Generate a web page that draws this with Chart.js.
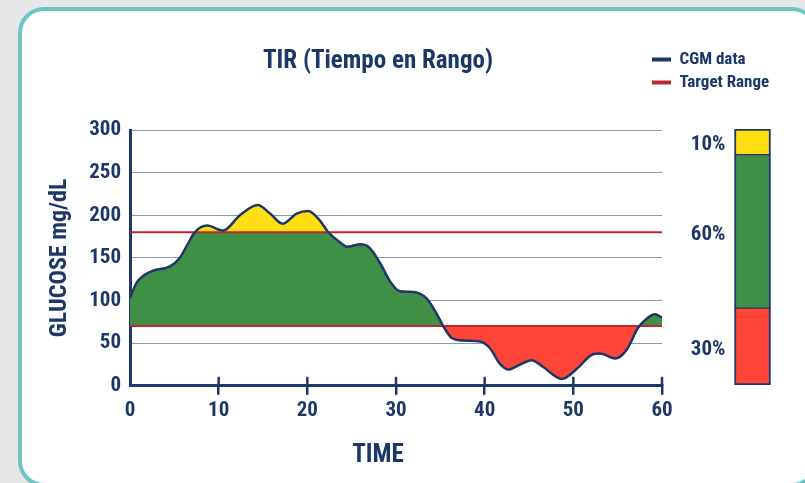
<!DOCTYPE html>
<html lang="es">
<head>
    <meta charset="UTF-8">
    <title>TIR (Tiempo en Rango)</title>
    <script src="https://cdn.jsdelivr.net/npm/chart.js"></script>
    <style>
        html, body { margin: 0; padding: 0; width: 805px; height: 483px; overflow: hidden; background: #e6e7e8; }
        .card {
            position: absolute; left: 18px; top: 7px; width: 800px; height: 480px;
            box-sizing: border-box; background: #fff;
            border: 4px solid #6cc5c0; border-radius: 26px;
        }
        #glucoseChart { position: absolute; left: 30px; top: 30px; }
        #tirChart { position: absolute; left: 646px; top: 45px; }
    </style>
</head>
<body>
    <div class="card"></div>
    <canvas id="glucoseChart" width="696" height="450"></canvas>
    <canvas id="tirChart" width="159" height="350"></canvas>
    <script>
        // CGM readings (minutes, mg/dL)
        const times   = [0, 0.75, 1.5, 2.6, 4.5, 5.6, 6.4, 7.3, 8.7, 10.5, 12.4, 14.4, 15.8, 17.2, 18.8, 20.1, 21.4, 22.3, 23.7, 24.5, 26, 27, 28.2, 29.3, 30.4, 32, 33.5, 34.6, 35.5, 36.3, 37.6, 39.5, 40.6, 41.7, 42.7, 44, 45.3, 46.6, 48.7, 50.4, 52.2, 53, 54.7, 56, 57.3, 58.3, 59.2, 60];
        const glucose = [103, 121, 129, 135, 140, 150, 164, 180, 188, 182, 200, 212, 202, 190, 202, 205, 194, 181, 168, 163, 166, 162, 144, 123, 111, 110, 102, 84, 67, 56, 53, 52, 44, 26, 19, 25, 30, 22, 8, 20, 37, 38, 32, 42, 68, 79, 84, 80];

        // target range limits
        const targetLow = 70;
        const targetHigh = 180;

        // time in range split
        const tirLabels = ['Bajo', 'En rango', 'Alto'];
        const tirValues = [30, 60, 10];

        const legendLabels = ['CGM data', 'Target Range'];

        const navy = '#1d3768';
        const lineRed = '#c0272d';
        const green = '#3f8f47';
        const yellow = '#ffdf12';
        const red = '#ff4438';
        const tirColors = [red, green, yellow];
        const fontFamily = "'Roboto Condensed', 'Liberation Sans Narrow', 'DejaVu Sans Condensed', Roboto, sans-serif";

        const cgmPoints = times.map((t, i) => ({ x: t, y: glucose[i] }));
        const flat = v => [{ x: times[0], y: v }, { x: times[times.length - 1], y: v }];

        // x ticks cross the axis line, draw the upper half here
        const crossTicks = {
            id: 'crossTicks',
            afterDraw(chart) {
                const xs = chart.scales.x;
                const ctx = chart.ctx;
                ctx.save();
                ctx.strokeStyle = navy;
                ctx.lineWidth = 2.5;
                xs.ticks.forEach((t, i) => {
                    if (i === 0) return;
                    const px = xs.getPixelForTick(i);
                    ctx.beginPath();
                    ctx.moveTo(px, xs.top - 9);
                    ctx.lineTo(px, xs.top);
                    ctx.stroke();
                });
                ctx.restore();
            }
        };

        new Chart(document.getElementById('glucoseChart'), {
            type: 'line',
            data: {
                datasets: [
                    {
                        label: legendLabels[0],
                        data: cgmPoints,
                        borderColor: navy,
                        borderWidth: 2.5,
                        cubicInterpolationMode: 'monotone',
                        pointRadius: 0,
                        fill: false
                    },
                    {
                        label: legendLabels[1],
                        data: flat(targetHigh),
                        borderColor: lineRed,
                        borderWidth: 2,
                        pointRadius: 0,
                        fill: false
                    },
                    {
                        label: 'low',
                        data: flat(targetLow),
                        borderColor: lineRed,
                        borderWidth: 2,
                        pointRadius: 0,
                        fill: false
                    },
                    {
                        // above target -> yellow
                        label: 'high fill',
                        data: cgmPoints,
                        borderWidth: 0,
                        cubicInterpolationMode: 'monotone',
                        pointRadius: 0,
                        fill: { target: { value: targetHigh }, above: yellow, below: 'rgba(0,0,0,0)' }
                    },
                    {
                        // in range green, below range red
                        label: 'range fill',
                        data: cgmPoints,
                        borderWidth: 0,
                        cubicInterpolationMode: 'monotone',
                        pointRadius: 0,
                        fill: { target: { value: targetLow }, above: green, below: red }
                    }
                ]
            },
            options: {
                responsive: false,
                animation: false,
                layout: { padding: { left: 14, right: 14, top: 0, bottom: 9 } },
                plugins: {
                    legend: { display: false },
                    tooltip: { enabled: false },
                    title: {
                        display: true,
                        text: 'TIR (Tiempo en Rango)',
                        color: navy,
                        font: { family: fontFamily, size: 25, weight: 'bold', lineHeight: 1.2 },
                        padding: { top: 17, bottom: 53 }
                    },
                    subtitle: {
                        display: true,
                        position: 'bottom',
                        text: 'TIME',
                        color: navy,
                        font: { family: fontFamily, size: 25, weight: 'bold', lineHeight: 1.2 },
                        padding: { top: 15, bottom: 0 }
                    }
                },
                scales: {
                    x: {
                        type: 'linear',
                        min: 0,
                        max: 60,
                        ticks: {
                            stepSize: 10,
                            color: navy,
                            padding: 3,
                            font: { family: fontFamily, size: 21, weight: 'bold', lineHeight: 1.2 }
                        },
                        grid: {
                            drawOnChartArea: false,
                            tickLength: 9,
                            lineWidth: 2.5,
                            color: ctx => ctx.index === 0 ? 'rgba(0,0,0,0)' : navy
                        },
                        border: { color: navy, width: 3 }
                    },
                    y: {
                        min: 0,
                        max: 300,
                        z: 1,
                        ticks: {
                            stepSize: 50,
                            color: navy,
                            padding: 9,
                            font: { family: fontFamily, size: 21, weight: 'bold', lineHeight: 1.2 }
                        },
                        grid: { color: 'rgba(31,53,102,0.5)', lineWidth: 1, drawTicks: false },
                        border: { color: navy, width: 3 },
                        title: {
                            display: true,
                            text: 'GLUCOSE mg/dL',
                            color: navy,
                            font: { family: fontFamily, size: 24, weight: 'bold', lineHeight: 1.2 },
                            padding: { top: 2, bottom: 6 }
                        },
                        afterFit(scale) { scale.width = 86; }
                    },
                    // empty right gutter, keeps the titles centred like the original
                    gutter: {
                        type: 'linear',
                        position: 'right',
                        ticks: { display: false },
                        grid: { display: false },
                        border: { display: false },
                        afterFit(scale) { scale.width = 50; }
                    }
                }
            },
            plugins: [crossTicks]
        });

        // percent labels next to the stacked bar
        const percentLabels = {
            id: 'percentLabels',
            afterDatasetsDraw(chart) {
                const ctx = chart.ctx;
                ctx.save();
                ctx.fillStyle = navy;
                ctx.font = 'bold 21px ' + fontFamily;
                ctx.textAlign = 'right';
                ctx.textBaseline = 'middle';
                chart.data.datasets.forEach((ds, i) => {
                    const el = chart.getDatasetMeta(i).data[0];
                    ctx.fillText(ds.data[0] + '%', el.x - el.width / 2 - 9, (el.y + el.base) / 2 + 3);
                });
                ctx.restore();
            }
        };

        new Chart(document.getElementById('tirChart'), {
            type: 'bar',
            data: {
                labels: ['TIR'],
                datasets: tirLabels.map((lbl, i) => ({
                    label: lbl,
                    data: [tirValues[i]],
                    backgroundColor: tirColors[i],
                    borderColor: navy,
                    borderWidth: { left: 2, right: 2, top: i === tirLabels.length - 1 ? 2 : 1, bottom: i === 0 ? 2 : 1 },
                    borderSkipped: false,
                    barThickness: 36
                }))
            },
            options: {
                responsive: false,
                animation: false,
                layout: { padding: { left: 0, right: 0, top: 0, bottom: 10 } },
                plugins: {
                    tooltip: { enabled: false },
                    legend: {
                        position: 'top',
                        align: 'start',
                        onClick: null,
                        labels: {
                            boxWidth: 19,
                            boxHeight: 4,
                            useBorderRadius: true,
                            borderRadius: 2,
                            padding: 6,
                            color: navy,
                            font: { family: fontFamily, size: 17, weight: 'bold' },
                            generateLabels: () => legendLabels.map((t, i) => ({
                                text: t,
                                fillStyle: i === 0 ? navy : lineRed,
                                strokeStyle: i === 0 ? navy : lineRed,
                                lineWidth: 0,
                                hidden: false,
                                fontColor: navy
                            }))
                        }
                    }
                },
                scales: {
                    x: {
                        stacked: true,
                        position: 'top',
                        ticks: { display: false },
                        grid: { display: false },
                        border: { display: false },
                        afterFit(scale) { scale.height = 28; }
                    },
                    y: {
                        stacked: true,
                        min: 0,
                        max: 100,
                        ticks: { display: false },
                        grid: { display: false },
                        border: { display: false },
                        afterFit(scale) { scale.width = 54; }
                    }
                }
            },
            plugins: [percentLabels]
        });
    </script>
</body>
</html>
